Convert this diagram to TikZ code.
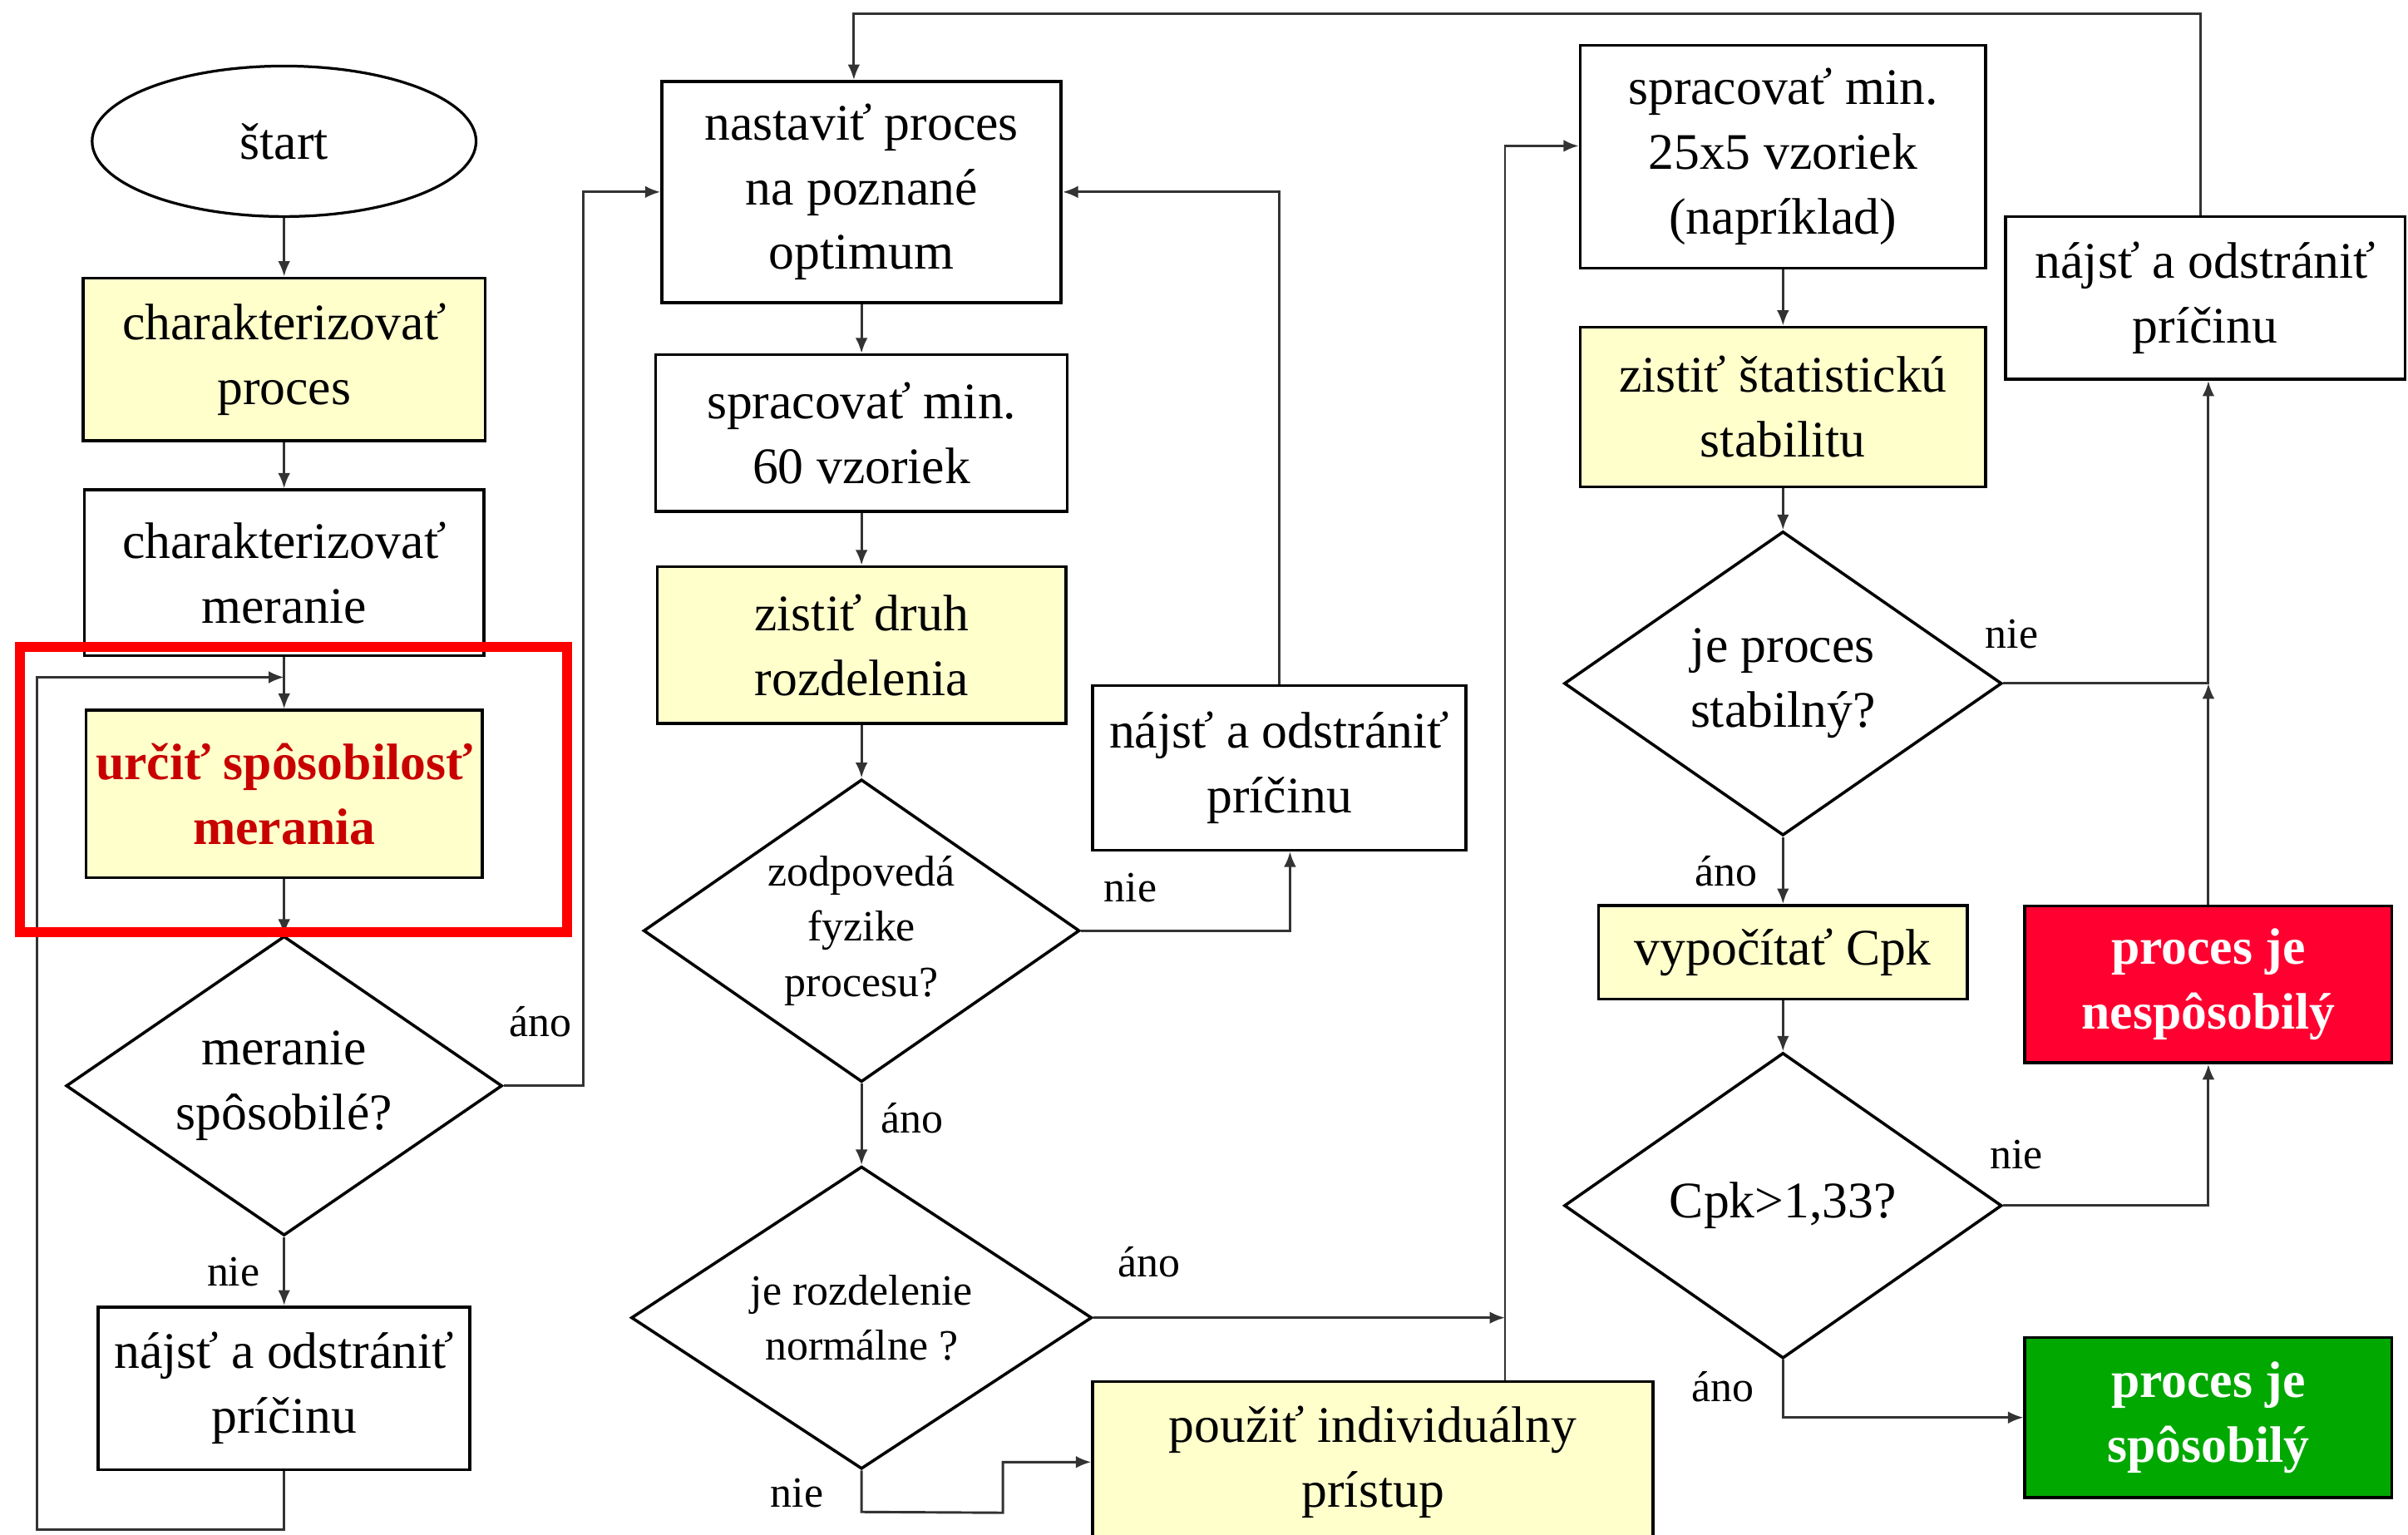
\documentclass[tikz,border=0pt]{standalone}
\usepackage{fontspec}
\setmainfont{Liberation Serif}
\usetikzlibrary{positioning, shapes.geometric, arrows.meta}

\definecolor{boxyellow}{HTML}{FFFFCC}
\definecolor{hilite}{HTML}{FF0000}
\definecolor{darkred}{HTML}{C80000}
\definecolor{failred}{HTML}{FF0030}
\definecolor{okgreen}{HTML}{00A800}

\begin{document}
\begin{tikzpicture}[x=0.2mm, y=-0.2mm, >={Latex[length=2mm, width=1.6mm]},
    every node/.style={font=\fontsize{19}{24}\selectfont, align=center, text=black},
    box/.style={rectangle, draw, line width=1.1pt, inner sep=1pt},
    yellowbox/.style={box, fill=boxyellow},
    decision/.style={diamond, draw, line width=1.1pt, inner sep=0pt, aspect=1.45},
    small/.style={font=\fontsize{16}{20.5}\selectfont},
    lbl/.style={font=\fontsize{16}{18}\selectfont},
    line/.style={draw=black!80, line width=0.9pt}]
    \useasboundingbox (0,0) rectangle (1568,999);
    \clip (0,0) rectangle (1568,999);

    % Nodes, first column
    \node[ellipse, draw, line width=1pt, minimum width=50mm, minimum height=19.6mm] (start) at (185,92) {štart};
    \node[yellowbox, minimum width=52.4mm, minimum height=21.2mm] (charProc) at (185,234) {charakterizovať\\proces};
    \node[box, minimum width=52mm, minimum height=21.6mm] (charMer) at (185,373) {charakterizovať\\meranie};
    \node[yellowbox, minimum width=51.6mm, minimum height=21.8mm, text=darkred, font=\fontsize{19}{24}\selectfont\bfseries] (urcit) at (185,517) {určiť spôsobilosť\\merania};
    \node[decision, minimum width=56.8mm, minimum height=39mm] (merSpos) at (185,707) {meranie\\spôsobilé?};
    \node[box, minimum width=48.4mm, minimum height=21.2mm] (najst1) at (185,904) {nájsť a odstrániť\\príčinu};

    % Nodes, second column
    \node[box, minimum width=52mm, minimum height=28.8mm] (nastavit) at (561,125) {nastaviť proces\\na poznané\\optimum};
    \node[box, minimum width=53.6mm, minimum height=20.4mm] (spr60) at (561,282) {spracovať min.\\60 vzoriek};
    \node[yellowbox, minimum width=53.2mm, minimum height=20.4mm] (druh) at (561,420) {zistiť druh\\rozdelenia};
    \node[decision, small, minimum width=56.8mm, minimum height=39.4mm] (zodp) at (561,606) {zodpovedá\\fyzike\\procesu?};
    \node[decision, small, minimum width=60mm, minimum height=39.4mm] (rozd) at (561,858) {je rozdelenie\\normálne ?};
    \node[box, minimum width=48.6mm, minimum height=21.4mm] (najst2) at (833,500) {nájsť a odstrániť\\príčinu};
    \node[yellowbox, minimum width=73mm, minimum height=21mm] (pouzit) at (894,952) {použiť individuálny\\prístup};

    % Nodes, third column
    \node[box, minimum width=52.8mm, minimum height=29mm] (spr25) at (1161,102) {spracovať min.\\25x5 vzoriek\\(napríklad)};
    \node[yellowbox, minimum width=52.8mm, minimum height=20.8mm] (stat) at (1161,265) {zistiť štatistickú\\stabilitu};
    \node[decision, minimum width=57mm, minimum height=39.6mm] (stab) at (1161,445) {je proces\\stabilný?};
    \node[yellowbox, minimum width=48mm, minimum height=12.2mm] (cpkCalc) at (1161,620) {vypočítať Cpk};
    \node[decision, minimum width=57mm, minimum height=39.8mm] (cpk) at (1161,785) {Cpk>1,33?};
    \node[box, minimum width=52mm, minimum height=21.2mm] (najst3) at (1436,194) {nájsť a odstrániť\\príčinu};
    \node[box, fill=failred, minimum width=47.8mm, minimum height=20.4mm, text=white, font=\fontsize{19}{24}\selectfont\bfseries] (nespos) at (1438,641) {proces je\\nespôsobilý};
    \node[box, fill=okgreen, minimum width=47.8mm, minimum height=20.8mm, text=white, font=\fontsize{19}{24}\selectfont\bfseries] (spos) at (1438,923) {proces je\\spôsobilý};

    % Junctions
    \coordinate (j1) at (185,441);
    \coordinate (j2) at (980,858);
    \coordinate (j3) at (1438,445);
    \coordinate (topRow) at (0,9);

    % Straight arrows
    \draw[line, ->] (start) -- (charProc);
    \draw[line, ->] (charProc) -- (charMer);
    \draw[line, ->] (charMer) -- (urcit);
    \draw[line, ->] (urcit) -- (merSpos);
    \draw[line, ->] (merSpos) -- (najst1);
    \draw[line, ->] (nastavit) -- (spr60);
    \draw[line, ->] (spr60) -- (druh);
    \draw[line, ->] (druh) -- (zodp);
    \draw[line, ->] (zodp) -- (rozd);
    \draw[line, ->] (spr25) -- (stat);
    \draw[line, ->] (stat) -- (stab);
    \draw[line, ->] (stab) -- (cpkCalc);
    \draw[line, ->] (cpkCalc) -- (cpk);

    % Elbow arrows
    \draw[line, ->] (najst1.south) -- ++(0,38) -| (24,441) -- (j1);
    \draw[line, ->] (merSpos.east) -- (380,707) |- (nastavit.west);
    \draw[line, ->] (zodp.east) -| ([xshift=1.4mm]najst2.south);
    \draw[line, ->] (najst2.north) |- (nastavit.east);
    \draw[line, ->] (rozd.east) -- (j2);
    \draw[line, ->] (rozd.south) -- ++(0,27) -- (653,985) |- (pouzit.west);
    \draw[line, ->] (pouzit.north -| j2) |- ([yshift=1.4mm]spr25.west);
    \draw[line, ->] (stab.east) -| (najst3.south -| j3);
    \draw[line, ->] (nespos.north) -- (j3);
    \draw[line, ->] (cpk.east) -| (nespos.south);
    \draw[line, ->] (cpk.south) |- (spos.west);
    \draw[line, ->] ([xshift=-0.6mm]najst3.north) -- ([xshift=-0.6mm]najst3.north |- topRow) -- ([xshift=-1mm]nastavit.north |- topRow) -- ([xshift=-1mm]nastavit.north);

    % Labels
    \node[lbl] (lNie1) at (152,828) {nie};
    \node[lbl] (lAno1) at (352,665) {áno};
    \node[lbl] (lNie2) at (736,578) {nie};
    \node[lbl] (lAno2) at (594,728) {áno};
    \node[lbl] (lAno3) at (748,822) {áno};
    \node[lbl] (lNie3) at (519,972) {nie};
    \node[lbl] (lNie4) at (1310,413) {nie};
    \node[lbl] (lAno4) at (1124,567) {áno};
    \node[lbl] (lNie5) at (1313,752) {nie};
    \node[lbl] (lAno5) at (1122,903) {áno};

    % Highlight
    \draw[hilite, line width=1.3mm] (13,421) rectangle (369,607);
  \end{tikzpicture}
\end{document}
